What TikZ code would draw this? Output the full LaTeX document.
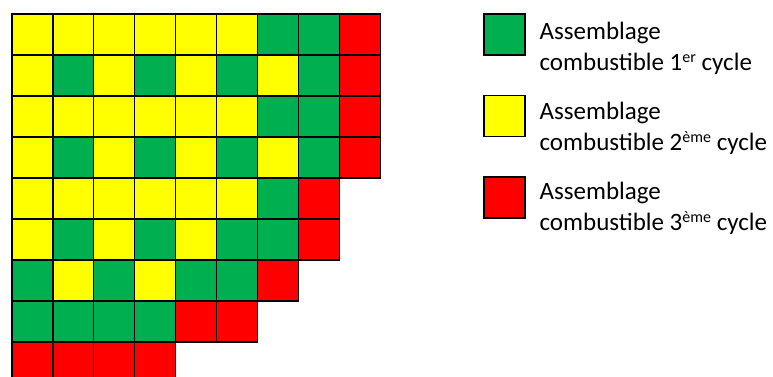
\documentclass[tikz,border=0pt]{standalone}
\usepackage{fontspec}
\setmainfont{Carlito}
\definecolor{vert}{HTML}{00B050}
\definecolor{jaune}{HTML}{FFFF00}
\definecolor{rouge}{HTML}{FF0000}
\newcommand{\exposant}[1]{\raisebox{0.32em}{\fontsize{16}{16}\selectfont #1}}
\begin{document}
\begin{tikzpicture}[x=1pt, y=-1pt, line width=1.2pt, font=\fontsize{25}{30}\selectfont,
  cell/.style={draw=black, minimum size=40.9pt, inner sep=0pt, outer sep=0pt, anchor=north west},
  legende/.style={anchor=base west, inner sep=0pt}]
  \useasboundingbox (0,0) rectangle (773,376);
  \clip (0,0) rectangle (773,376);
  % quart de coeur
  \foreach \ligne [count=\j from 0] in {
    {jaune,jaune,jaune,jaune,jaune,jaune,vert,vert,rouge},
    {jaune,vert,jaune,vert,jaune,vert,jaune,vert,rouge},
    {jaune,jaune,jaune,jaune,jaune,jaune,vert,vert,rouge},
    {jaune,vert,jaune,vert,jaune,vert,jaune,vert,rouge},
    {jaune,jaune,jaune,jaune,jaune,jaune,vert,rouge},
    {jaune,vert,jaune,vert,jaune,vert,vert,rouge},
    {vert,jaune,vert,jaune,vert,vert,rouge},
    {vert,vert,vert,vert,rouge,rouge},
    {rouge,rouge,rouge,rouge}} {
    \foreach \c [count=\i from 0] in \ligne
      \node[cell, fill=\c] (c-\j-\i) at (12+40.9*\i, 14+41*\j) {};
  }
  % legende
  \node[cell, fill=vert] (l1) at (484,14) {};
  \node[cell, fill=jaune] (l2) at (484,95.5) {};
  \node[cell, fill=rouge] (l3) at (484,177) {};
  \node[legende] (t1a) at (539,39.5) {Assemblage};
  \node[legende] (t1b) at (539,70) {combustible 1\exposant{er} cycle};
  \node[legende] (t2a) at (539,119.5) {Assemblage};
  \node[legende] (t2b) at (539,150) {combustible 2\exposant{ème} cycle};
  \node[legende] (t3a) at (539,199.5) {Assemblage};
  \node[legende] (t3b) at (539,230) {combustible 3\exposant{ème} cycle};
\end{tikzpicture}
\end{document}
